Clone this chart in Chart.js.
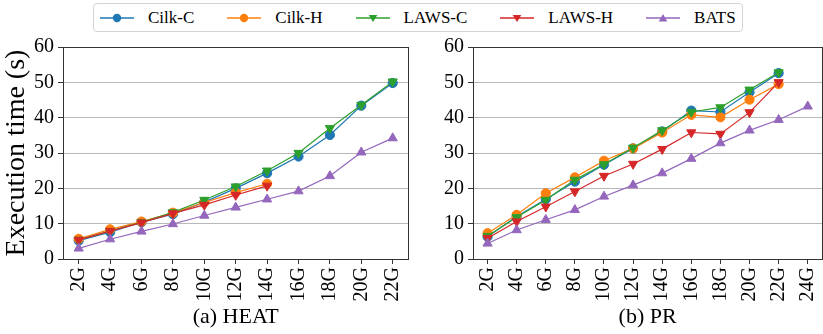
<!DOCTYPE html>
<html>
<head>
<meta charset="utf-8">
<script src="https://cdn.jsdelivr.net/npm/chart.js@4"></script>
<style>
  html, body { margin: 0; padding: 0; background: #fff; }
  body { width: 823px; height: 334px; position: relative; overflow: hidden; }
  canvas { position: absolute; top: 0; }
  #heat { left: 0; }
  #pr { left: 420px; }
  #legend {
    position: absolute; left: 93px; top: 3px; width: 650px; height: 29px;
    box-sizing: border-box; border: 1px solid #d4d4d4; border-radius: 4px;
    display: flex; align-items: center; padding-left: 6px; background: #fff;
    font-family: 'Liberation Serif', 'Times New Roman', serif; font-size: 17px; color: #000;
    white-space: nowrap;
  }
  .item { display: flex; align-items: center; margin-right: 33px; flex-shrink: 0; white-space: nowrap; }
  .item svg { margin-right: 14px; flex-shrink: 0; }
</style>
</head>
<body>
<div id="legend"></div>
<canvas id="heat" width="420" height="334"></canvas>
<canvas id="pr" width="415" height="334"></canvas>
<script>
// series names / colors / markers
const seriesNames = ['Cilk-C', 'Cilk-H', 'LAWS-C', 'LAWS-H', 'BATS'];
const seriesColors = ['#1f77b4', '#ff7f0e', '#2ca02c', '#d62728', '#9467bd'];
const seriesMarkers = ['circle', 'circle', 'down', 'down', 'up'];

// (a) HEAT
const heatLabels = ['2G', '4G', '6G', '8G', '10G', '12G', '14G', '16G', '18G', '20G', '22G'];
const heatCilkC = [5.2, 7.6, 10.4, 12.7, 16.1, 20.0, 24.3, 29.0, 35.1, 43.4, 49.8];
const heatCilkH = [5.7, 8.4, 10.6, 13.1, 16.0, 18.8, 21.3];
const heatLawsC = [5.4, 7.9, 10.4, 13.2, 16.7, 20.5, 25.0, 30.0, 37.0, 43.6, 50.2];
const heatLawsH = [5.4, 7.9, 10.3, 12.9, 15.3, 18.1, 20.7];
const heatBats = [3.0, 5.6, 7.8, 9.9, 12.3, 14.6, 16.9, 19.2, 23.5, 30.2, 34.2];

// (b) PR
const prLabels = ['2G', '4G', '6G', '8G', '10G', '12G', '14G', '16G', '18G', '20G', '22G', '24G'];
const prCilkC = [6.3, 12.0, 16.9, 21.9, 26.7, 31.3, 36.1, 42.0, 41.6, 47.2, 52.6];
const prCilkH = [7.3, 12.5, 18.6, 23.1, 27.8, 31.3, 35.8, 40.8, 40.1, 45.1, 49.5];
const prLawsC = [6.5, 11.8, 16.7, 22.4, 26.8, 31.5, 36.4, 41.6, 42.9, 47.9, 52.8];
const prLawsH = [5.9, 10.6, 14.8, 19.1, 23.5, 26.9, 31.1, 35.8, 35.4, 41.5, 50.0];
const prBats = [4.4, 8.2, 11.1, 13.9, 17.7, 20.9, 24.3, 28.4, 32.8, 36.4, 39.4, 43.2];

const yTicks = [0, 10, 20, 30, 40, 50, 60];

const serif = "'Liberation Serif', 'Times New Roman', serif";
Chart.defaults.font.family = serif;
Chart.defaults.color = '#000';

// Build the shared legend
const legend = document.getElementById('legend');
seriesNames.forEach(function(name, i) {
    const c = seriesColors[i];
    let mark;
    if (seriesMarkers[i] === 'circle') {
        mark = `<circle cx="17" cy="7" r="4.2" fill="${c}"/>`;
    } else if (seriesMarkers[i] === 'down') {
        mark = `<polygon points="12.7,4 21.3,4 17,11" fill="${c}"/>`;
    } else {
        mark = `<polygon points="12.7,10.5 21.3,10.5 17,3" fill="${c}"/>`;
    }
    const item = document.createElement('div');
    item.className = 'item';
    item.innerHTML = `<svg width="34" height="14"><line x1="0" y1="7" x2="34" y2="7" stroke="${c}" stroke-width="1.3"/>${mark}</svg><span>${name}</span>`;
    legend.appendChild(item);
});

// Box around the plot area
const frame = {
    id: 'frame',
    afterDraw(chart) {
        const a = chart.chartArea;
        const ctx = chart.ctx;
        ctx.save();
        ctx.strokeStyle = '#333';
        ctx.lineWidth = 1;
        ctx.strokeRect(Math.round(a.left) + 0.5, Math.round(a.top) + 0.5,
            Math.round(a.right - a.left), Math.round(a.bottom - a.top));
        ctx.restore();
    }
};

function makeDatasets(values) {
    return values.map(function(v, i) {
        const m = seriesMarkers[i];
        return {
            label: seriesNames[i],
            data: v,
            borderColor: seriesColors[i],
            backgroundColor: seriesColors[i],
            borderWidth: 1.2,
            pointStyle: m === 'circle' ? 'circle' : 'triangle',
            rotation: m === 'down' ? 180 : 0,
            pointRadius: m === 'circle' ? 4.6 : 5.3,
            pointBorderWidth: 1,
            pointBorderColor: seriesColors[i],
            pointBackgroundColor: seriesColors[i],
            order: seriesNames.length - i,
            tension: 0,
            spanGaps: false
        };
    });
}

function makeChart(id, labels, values, title, yWidth, padRight, showYTitle) {
    return new Chart(document.getElementById(id), {
        type: 'line',
        data: { labels: labels, datasets: makeDatasets(values) },
        plugins: [frame],
        options: {
            responsive: false,
            animation: false,
            devicePixelRatio: 1,
            layout: { padding: { left: 0, top: 47, right: padRight, bottom: 0 } },
            plugins: { legend: { display: false }, tooltip: { enabled: false } },
            scales: {
                x: {
                    type: 'category',
                    offset: true,
                    grid: { display: true, drawOnChartArea: false, offset: false, tickLength: 5, tickColor: '#333' },
                    border: { display: false },
                    ticks: {
                        autoSkip: false, minRotation: 90, maxRotation: 90, padding: 3,
                        color: '#000', font: { family: serif, size: 20 }
                    },
                    title: {
                        display: true, text: title, color: '#000',
                        font: { family: serif, size: 22 }, padding: { top: 0, bottom: 4 }
                    },
                    afterFit: function(s) { s.height = 75; }
                },
                y: {
                    min: 0, max: 60,
                    afterBuildTicks: function(s) { s.ticks = yTicks.map(function(v) { return { value: v }; }); },
                    grid: {
                        color: function(c) { return (c.tick && (c.tick.value === 0 || c.tick.value === 60)) ? 'rgba(0,0,0,0)' : '#b8b8b8'; },
                        lineWidth: 1, tickLength: 5, tickColor: '#333'
                    },
                    border: { display: false },
                    ticks: { padding: 4, color: '#000', font: { family: serif, size: 20 } },
                    title: {
                        display: showYTitle, text: 'Execution time (s)', color: '#000',
                        font: { family: serif, size: 28 }, padding: 0
                    },
                    afterFit: function(s) { s.width = yWidth; }
                }
            }
        }
    });
}

makeChart('heat', heatLabels, [heatCilkC, heatCilkH, heatLawsC, heatLawsH, heatBats], '(a) HEAT', 63, 2.5, true);
makeChart('pr', prLabels, [prCilkC, prCilkH, prLawsC, prLawsH, prBats], '(b) PR', 53, 4, false);
</script>
</body>
</html>
